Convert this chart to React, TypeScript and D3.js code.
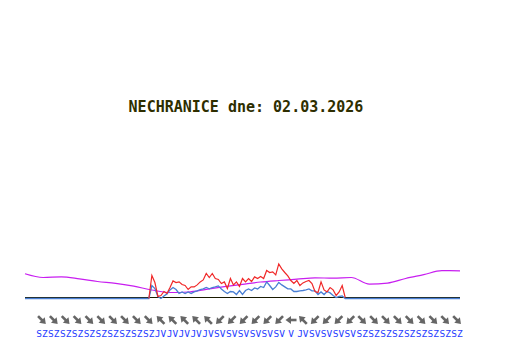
import React from "react";
import * as d3 from "d3";

// ---- data ----
const title = "NECHRANICE dne: 02.03.2026";

// hourly magenta series (0..24 h)
const magentaHours = [0,1,2,3,4,5,6,7,8,9,10,11,12,13,14,15,16,17,18,19,20,21,22,23,24];
const magentaValues = [12.35,10.5,10.85,9.85,8.5,7.6,6.15,4.25,3.0,3.25,4.6,5.9,7.1,8.25,9.0,9.65,10.35,10.15,10.5,7.2,7.7,10.0,11.9,13.9,13.85];

// 10-minute wind series starting 06:50
const windStartHour = 6 + 50 / 60;
const windStepHour = 10 / 60;
const gustValues = [0,11.5,8,1,1.5,3.5,2.5,5.5,8.8,8,8.3,7,6.5,4.5,5.8,5.8,6.8,8.3,9.3,12.5,10.5,12.5,10,9.5,7.5,8.3,5,10,6.8,8.3,6,10,8.3,10,8.5,10.8,10,11,10,14,13,13.3,11.8,17.3,14.8,13,11.3,9,7.5,9,6.5,7.8,8.5,9,7.5,3.5,3,8.3,4.3,3.3,5.5,4.3,1.5,3.3,6.5,0.5];
const speedValues = [0,6.5,5,1,0,1.3,2.3,4.3,5.5,4.5,2.5,3.3,2.5,3.3,2.5,3.3,3.8,4.5,4.8,5.5,4.8,5.5,5.8,6.3,4.8,3.5,2.5,3.5,3.3,2,4,2,4,4.8,4,5.3,4.8,6,5.5,8.3,6.5,4.5,5.8,8,6.8,5.8,4.8,4.8,3.5,3.5,3.8,4,4.3,4.8,3.8,3.8,2,3.3,2,3.5,2.8,1.5,0.5,1,1.3,0];

// wind direction row
const windDirs = [
  "SZ","SZ","SZ","SZ","SZ","SZ","SZ","SZ","SZ","SZ",
  "JV","JV","JV","JV","JV",
  "SV","SV","SV","SV","SV","SV",
  "V","JV",
  "SV","SV","SV","SV",
  "SZ","SZ","SZ","SZ","SZ","SZ","SZ","SZ","SZ",
];
const dirDegrees: Record<string, number> = { S: 0, SV: 45, V: 90, JV: 135, J: 180, JZ: 225, Z: 270, SZ: 315 };

export default function App() {
  const W = 532, H = 360;
  const x = d3.scaleLinear().domain([0, 24]).range([25, 460]);
  const y = d3.scaleLinear().domain([0, 20]).range([298.5, 258.5]);
  const band = d3.scaleBand<number>().domain(windDirs.map((_, i) => i)).range([36, 463]);

  const mag = magentaHours.map((h, i) => [h, magentaValues[i]] as [number, number]);
  const gust = gustValues.map((v, i) => [windStartHour + i * windStepHour, v] as [number, number]);
  const speedCore = speedValues.map((v, i) => [windStartHour + i * windStepHour, v] as [number, number]);
  const speed: [number, number][] = [[0, 0], ...speedCore, [24, 0]];

  const line = d3.line<[number, number]>().x(d => x(d[0])).y(d => y(d[1]));
  const magLine = d3.line<[number, number]>().x(d => x(d[0])).y(d => y(d[1])).curve(d3.curveMonotoneX);

  return (
    <svg width={W} height={H} style={{ position: "absolute", left: 0, top: 0, background: "#fff" }}>
      <rect width={W} height={H} fill="#ffffff" />
      <text x={246} y={112} textAnchor="middle" fontFamily="DejaVu Sans Mono" fontWeight="bold" fontSize={15} fill="#2e2e00">{title}</text>

      <path d={magLine(mag) || ""} fill="none" stroke="#c81ef0" strokeWidth={1.2} />
      <line x1={x(0)} x2={x(24)} y1={297.5} y2={297.5} stroke="#1a1a00" strokeWidth={1} shapeRendering="crispEdges" />
      <path d={line(speed) || ""} fill="none" stroke="#4a7fd4" strokeWidth={1.3} />
      <path d={line(gust) || ""} fill="none" stroke="#f02828" strokeWidth={1.2} />

      {windDirs.map((d, i) => {
        const cx = (band(i) as number) + band.bandwidth() / 2;
        const rot = dirDegrees[d] + 90;
        return (
          <g key={i} transform={`translate(${cx},320) rotate(${rot})`}>
            <line x1={-5.5} y1={0} x2={1} y2={0} stroke="#666666" strokeWidth={2.6} />
            <polygon points="5.5,0 0,-4 0,4" fill="#666666" />
          </g>
        );
      })}
      {windDirs.map((d, i) => {
        const cx = (band(i) as number) + band.bandwidth() / 2;
        return (
          <text key={"l" + i} x={cx} y={337} textAnchor="middle" fontFamily="DejaVu Sans Mono" fontSize={9.5} fill="#1f3cff">{d}</text>
        );
      })}
    </svg>
  );
}
